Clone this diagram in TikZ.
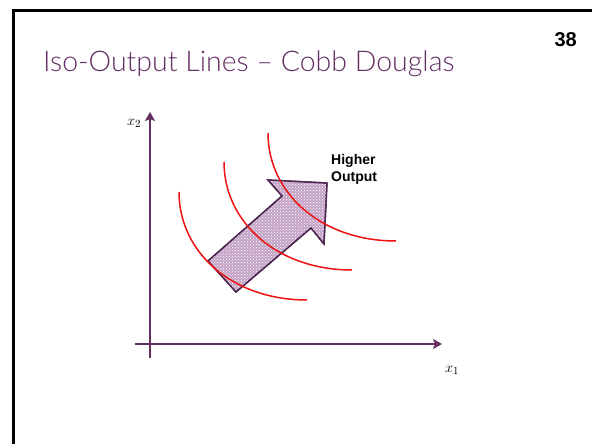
\documentclass[tikz,border=0pt]{standalone}
\usepackage{fontspec}
\setmainfont{Liberation Sans}
\newfontfamily\titlefont{Lato Light}
\usepackage{xcolor}
\usepackage{tikz}
\usetikzlibrary{arrows.meta,positioning,calc,patterns}
\definecolor{plum}{RGB}{98,46,100}
\definecolor{plumdark}{RGB}{78,40,80}
\definecolor{mauve}{RGB}{196,164,198}
\definecolor{isored}{RGB}{238,18,18}

\begin{document}
\begin{tikzpicture}[x=1pt,y=-1pt,
    axis/.style={draw=plum,line width=2.5pt,-{Stealth[length=9pt,width=10pt,inset=2pt]}},
    isoline/.style={draw=isored,line width=1.5pt},
    bigarrow/.style={fill=mauve,draw=plumdark,line width=1.4pt,line join=miter},
    lbl/.style={inner sep=0pt,font=\fontsize{15}{15}\selectfont}]
    \useasboundingbox (0,0) rectangle (592,444);
    % 边框
    \draw[line width=3pt] (13,460) -- (13,11) -- (610,11);
    % 标题
    \node[anchor=base west,inner sep=0pt,text=plum,font=\titlefont\fontsize{28.5}{28.5}\selectfont] (title) at (43,72) {Iso-Output Lines – Cobb Douglas};
    \node[anchor=base east,inner sep=0pt,font=\bfseries\fontsize{20}{20}\selectfont] (pagenum) at (577,47) {38};
    % 坐标轴
    \coordinate (origin) at (150,344);
    \coordinate (ytop) at (150,112);
    \coordinate (ybot) at (150,358);
    \coordinate (xleft) at (135,344);
    \coordinate (xright) at (442,344);
    \draw[axis] (ybot) -- (ytop);
    \draw[axis] (xleft) -- (xright);
    \node[lbl] (xtwo) at (134,123) {$x_2$};
    \node[lbl] (xone) at (452,370) {$x_1$};
    % 大箭头
    \fill[bigarrow] (208,261) -- (236,292) -- (311,228) -- (324,244) -- (327,183) -- (268,180) -- (282,196) -- cycle;
    \fill[pattern=crosshatch dots,pattern color=white] (208,261) -- (236,292) -- (311,228) -- (324,244) -- (327,183) -- (268,180) -- (282,196) -- cycle;
    \draw[draw=plumdark,line width=1.4pt,line join=miter] (208,261) -- (236,292) -- (311,228) -- (324,244) -- (327,183) -- (268,180) -- (282,196) -- cycle;
    % 等产量线
    \foreach \dx/\dy in {0/0,45/-30,89/-59}
        \draw[isoline] ($(179,192)+(\dx,\dy)$) .. controls +(0,60) and +(-75,0) .. ($(307,300)+(\dx,\dy)$);
    \node[anchor=north west,align=left,inner sep=0pt,font=\bfseries\fontsize{14}{17}\selectfont] (higher) at (331,154) {Higher\\Output};
\end{tikzpicture}
\end{document}
